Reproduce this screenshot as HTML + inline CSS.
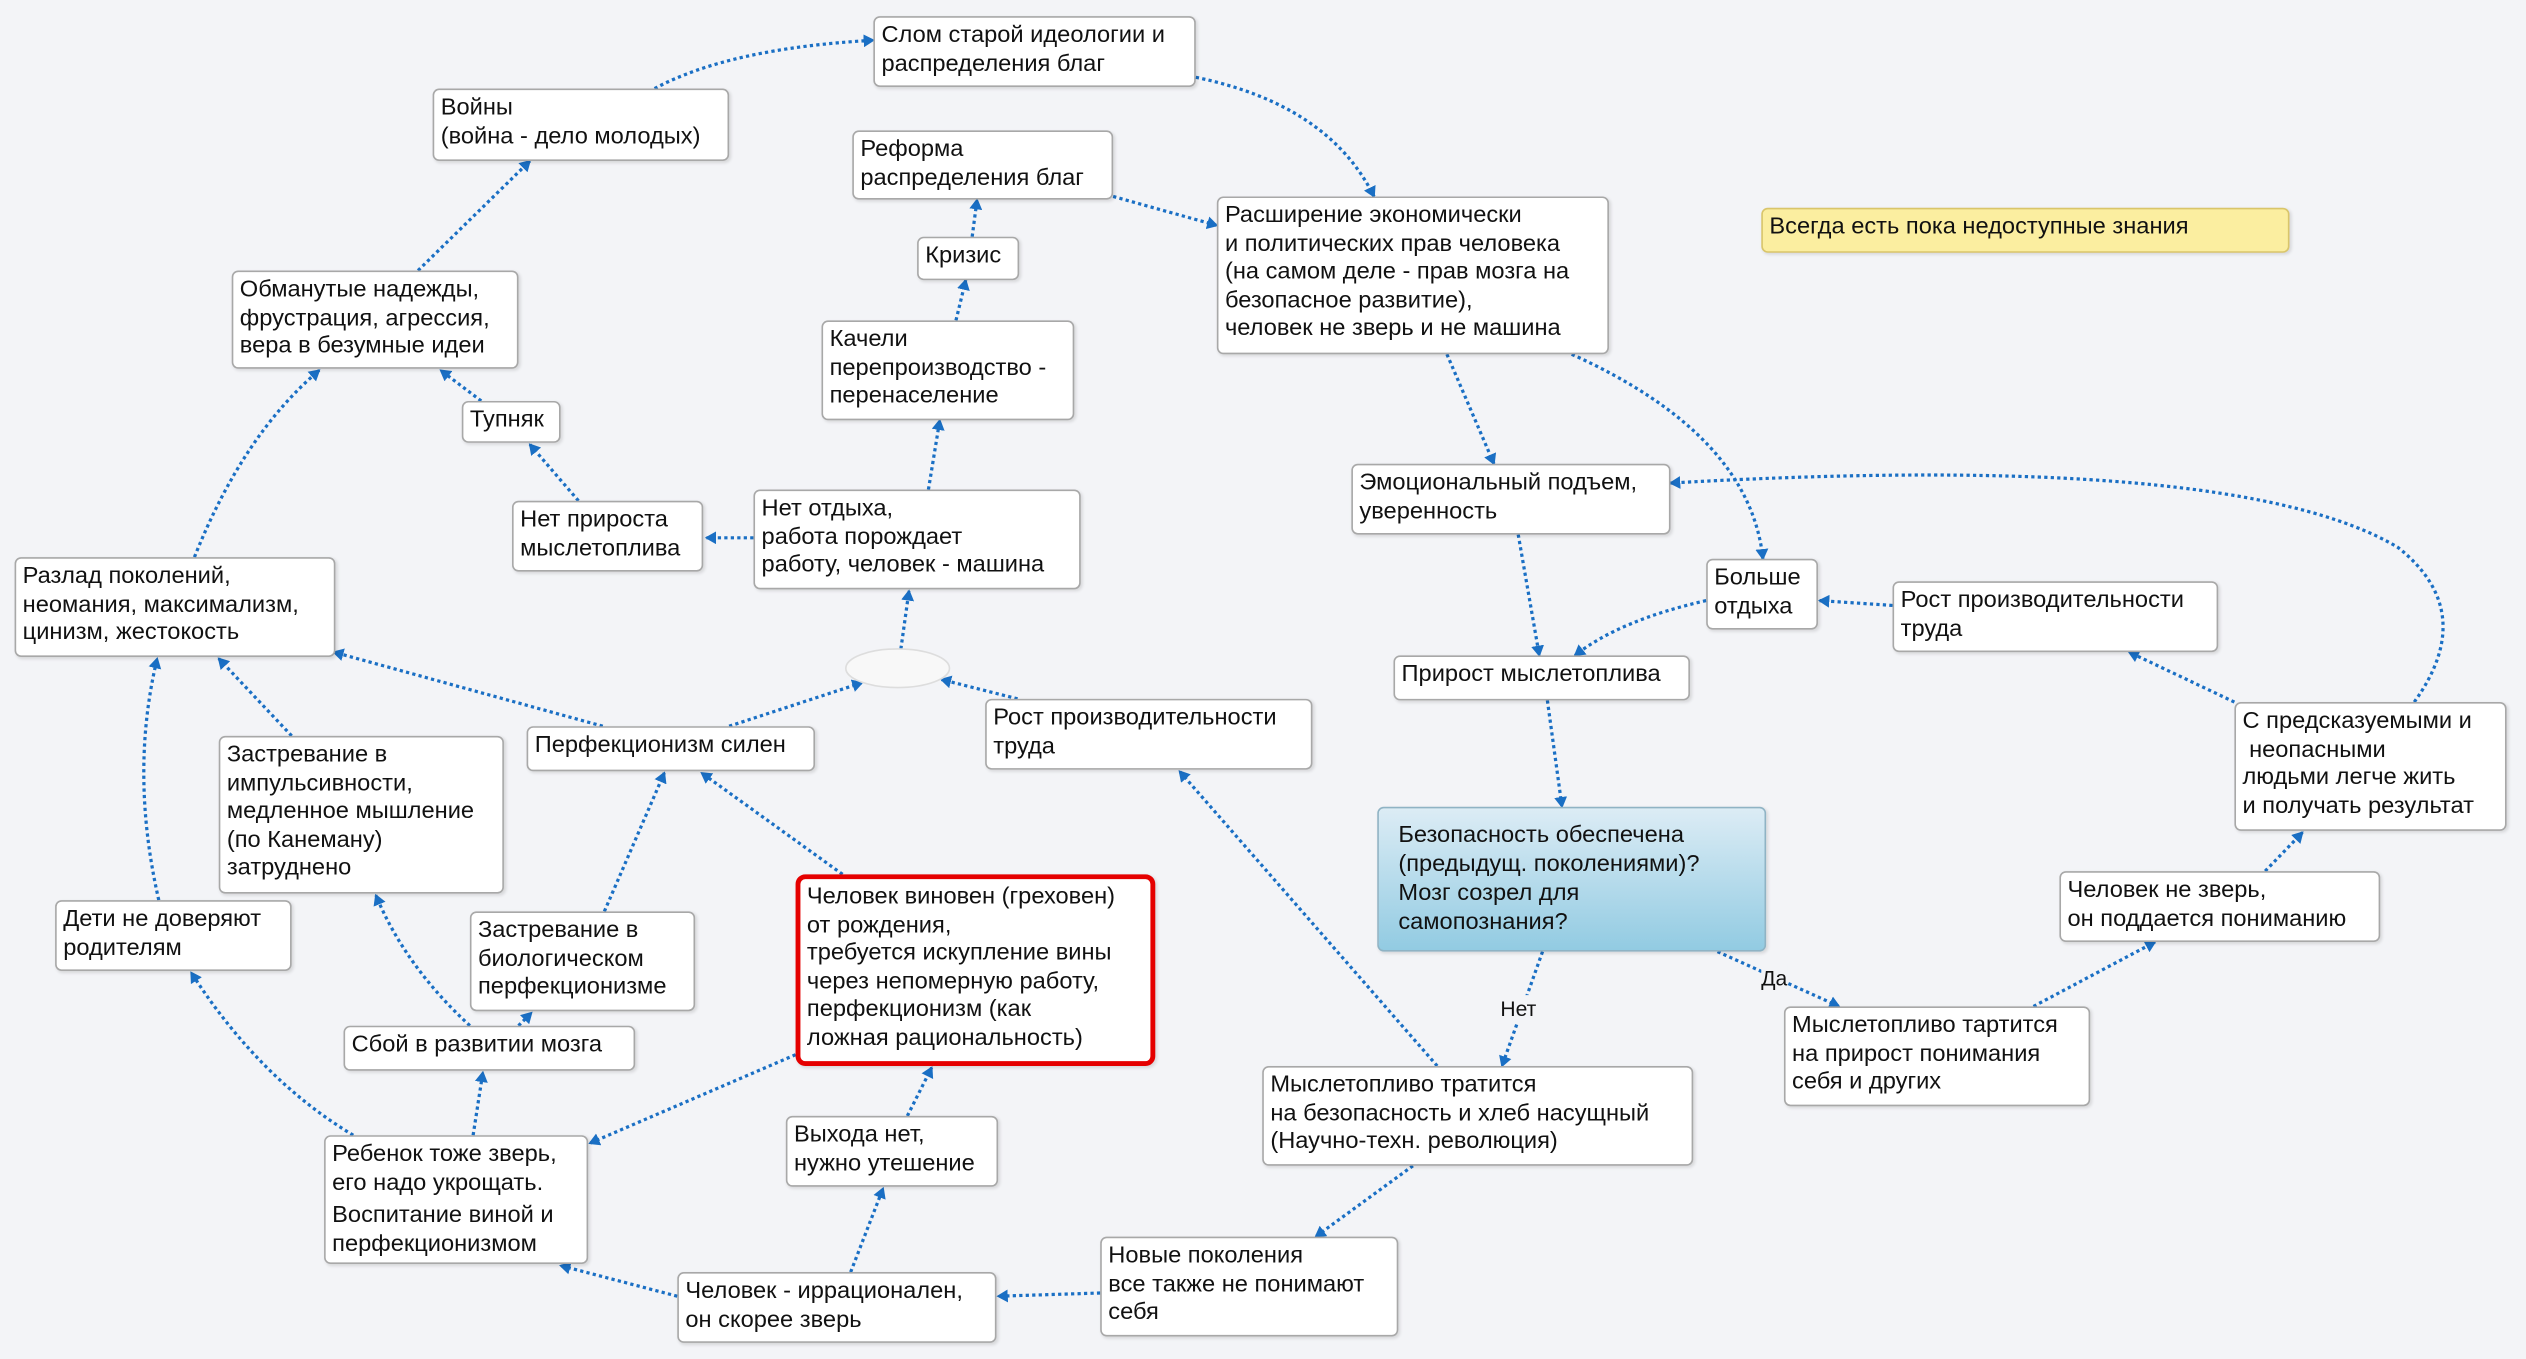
<!DOCTYPE html>
<html><head><meta charset="utf-8"><style>
html,body{margin:0;padding:0;background:#f3f4f7;overflow:hidden;width:2526px;height:1359px}
#c{position:absolute;left:0;top:0;width:1559px;height:844px;transform-origin:0 0;transform:scale(1.6203,1.6102);font-family:"Liberation Sans",Arial,sans-serif;font-size:14.6px;line-height:17.5px;color:#111}
.b{position:absolute;background:#fff;border:1px solid #a8a8a8;border-radius:4px;padding:3px 4px;box-sizing:border-box;white-space:nowrap;box-shadow:1px 1px 2px rgba(0,0,0,.12)}
svg{position:absolute;left:0;top:0}
.l{position:absolute;font-size:13px;background:#f3f4f7}
</style></head><body><div id="c">
<svg width="1559" height="844" viewBox="0 0 1559 844">
<defs><marker id="a" markerWidth="8" markerHeight="8" refX="6" refY="4" orient="auto" markerUnits="userSpaceOnUse"><path d="M0,0 L7,4 L0,8 z" fill="#1a6fc4"/></marker></defs>
<g fill="none" stroke="#1a6fc4" stroke-width="2" stroke-dasharray="2,2" marker-end="url(#a)">
<path d="M404,55 Q450,30 539,25"/>
<path d="M738,48 Q820,65 848,122"/>
<path d="M687,122 L751,140"/>
<path d="M600,147 L603,124"/>
<path d="M590,199 L596,174"/>
<path d="M573,304 L580,261"/>
<path d="M465,334 L436,334"/>
<path d="M357,311 L327,276"/>
<path d="M297,249 L272,230"/>
<path d="M258,168 L327,100"/>
<path d="M120,346 Q150,270 197,230"/>
<path d="M98,559 Q80,480 97,409"/>
<path d="M180,457 L135,409"/>
<path d="M372,451 L206,405"/>
<path d="M450,451 L532,424"/>
<path d="M556,403 L561,367"/>
<path d="M628,434 L581,422"/>
<path d="M520,543 L433,480"/>
<path d="M373,566 L410,480"/>
<path d="M320,637 L328,629"/>
<path d="M290,637 Q250,600 232,556"/>
<path d="M292,705 L298,666"/>
<path d="M218,705 Q160,670 118,604"/>
<path d="M491,655 L364,710"/>
<path d="M560,693 L575,663"/>
<path d="M525,790 L545,738"/>
<path d="M418,805 L346,786"/>
<path d="M679,803 L616,805"/>
<path d="M872,724 L812,768"/>
<path d="M887,662 L728,479"/>
<path d="M952,591 L927,662"/>
<path d="M1060,591 L1135,625"/>
<path d="M1255,625 L1330,585"/>
<path d="M1398,541 L1421,517"/>
<path d="M1379,436 L1314,405"/>
<path d="M1168,376 L1123,373"/>
<path d="M1490,436 Q1530,380 1480,340 Q1380,280 1031,300"/>
<path d="M1053,373 Q1000,385 972,407"/>
<path d="M937,332 L950,407"/>
<path d="M893,220 L922,288"/>
<path d="M970,220 Q1080,270 1088,347"/>
<path d="M955,435 L964,501"/>
</g>
<ellipse cx="554" cy="415" rx="32" ry="12" fill="#f8f8f8" stroke="#ddd"/>
</svg>
<div class="b" style="left:539px;top:10px;width:199px;height:44px">Слом старой идеологии и<br>распределения благ</div>
<div class="b" style="left:267px;top:55px;width:183px;height:45px">Войны<br>(война - дело молодых)</div>
<div class="b" style="left:526px;top:81px;width:161px;height:43px">Реформа<br>распределения благ</div>
<div class="b" style="left:751px;top:122px;width:242px;height:98px">Расширение экономически<br>и политических прав человека<br>(на самом деле - прав мозга на<br>безопасное развитие),<br>человек не зверь и не машина</div>
<div class="b" style="left:1087px;top:129px;width:326px;height:28px;background:#fbeea0;border-color:#d9c56a">Всегда есть пока недоступные знания</div>
<div class="b" style="left:566px;top:147px;width:63px;height:27px">Кризис</div>
<div class="b" style="left:143px;top:168px;width:177px;height:61px">Обманутые надежды,<br>фрустрация, агрессия,<br>вера в безумные идеи</div>
<div class="b" style="left:507px;top:199px;width:156px;height:62px">Качели<br>перепроизводство -<br>перенаселение</div>
<div class="b" style="left:285px;top:249px;width:61px;height:26px">Тупняк</div>
<div class="b" style="left:834px;top:288px;width:197px;height:44px">Эмоциональный подъем,<br>уверенность</div>
<div class="b" style="left:316px;top:311px;width:118px;height:44px">Нет прироста<br>мыслетоплива</div>
<div class="b" style="left:465px;top:304px;width:202px;height:62px">Нет отдыха,<br>работа порождает<br>работу, человек - машина</div>
<div class="b" style="left:9px;top:346px;width:198px;height:62px">Разлад поколений,<br>неомания, максимализм,<br>цинизм, жестокость</div>
<div class="b" style="left:1053px;top:347px;width:69px;height:44px">Больше<br>отдыха</div>
<div class="b" style="left:1168px;top:361px;width:201px;height:44px">Рост производительности<br>труда</div>
<div class="b" style="left:860px;top:407px;width:183px;height:28px">Прирост мыслетоплива</div>
<div class="b" style="left:325px;top:451px;width:178px;height:28px">Перфекционизм силен</div>
<div class="b" style="left:608px;top:434px;width:202px;height:44px">Рост производительности<br>труда</div>
<div class="b" style="left:1379px;top:436px;width:168px;height:80px">С предсказуемыми и<br>&nbsp;неопасными<br>людьми легче жить<br>и получать результат</div>
<div class="b" style="left:135px;top:457px;width:176px;height:98px">Застревание в<br>импульсивности,<br>медленное мышление<br>(по Канеману)<br>затруднено</div>
<div class="b" style="left:850px;top:501px;width:240px;height:90px;padding:8px 12px;background:linear-gradient(#dcecf5,#92cbe2);border-color:#8fb3c4;font-size:14.6px;line-height:18px">Безопасность обеспечена<br>(предыдущ. поколениями)?<br>Мозг созрел для<br>самопознания?</div>
<div class="b" style="left:491px;top:543px;width:222px;height:119px;border:3px solid #e50000;border-radius:6px">Человек виновен (греховен)<br>от рождения,<br>требуется искупление вины<br>через непомерную работу,<br>перфекционизм (как<br>ложная рациональность)</div>
<div class="b" style="left:1271px;top:541px;width:198px;height:44px">Человек не зверь,<br>он поддается пониманию</div>
<div class="b" style="left:34px;top:559px;width:146px;height:44px">Дети не доверяют<br>родителям</div>
<div class="b" style="left:290px;top:566px;width:139px;height:62px">Застревание в<br>биологическом<br>перфекционизме</div>
<div class="b" style="left:1101px;top:625px;width:189px;height:62px">Мыслетопливо тартится<br>на прирост понимания<br>себя и других</div>
<div class="b" style="left:212px;top:637px;width:180px;height:28px">Сбой в развитии мозга</div>
<div class="b" style="left:779px;top:662px;width:266px;height:62px">Мыслетопливо тратится<br>на безопасность и хлеб насущный<br>(Научно-техн. революция)</div>
<div class="b" style="left:485px;top:693px;width:131px;height:44px">Выхода нет,<br>нужно утешение</div>
<div class="b" style="left:200px;top:705px;width:163px;height:80px">Ребенок тоже зверь,<br>его надо укрощать.<br><span style="display:block;margin-top:3px">Воспитание виной и<br>перфекционизмом</span></div>
<div class="b" style="left:679px;top:768px;width:184px;height:62px">Новые поколения<br>все также не понимают<br>себя</div>
<div class="b" style="left:418px;top:790px;width:197px;height:44px">Человек - иррационален,<br>он скорее зверь</div>
<div class="l" style="left:926px;top:618px">Нет</div>
<div class="l" style="left:1087px;top:599px">Да</div>
</div></body></html>
